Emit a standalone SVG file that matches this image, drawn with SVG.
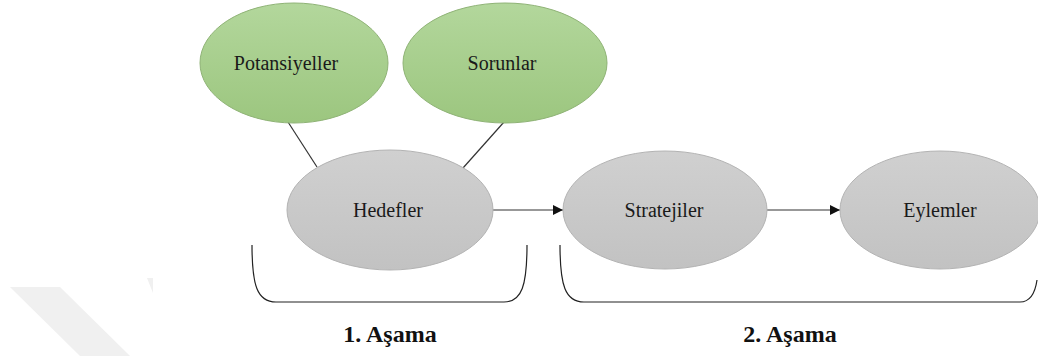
<svg xmlns="http://www.w3.org/2000/svg" width="1038" height="356" viewBox="0 0 1038 356">
<style>
.green{fill:url(#gGreen);stroke:#8fb376;stroke-width:1}
.gray{fill:url(#gGray);stroke:#b3b3b3;stroke-width:1}
.lbl{font-family:"Liberation Serif","Times New Roman",serif;font-size:20px;fill:#1a1a1a;text-anchor:middle}
.phase{font-family:"Liberation Serif","Times New Roman",serif;font-size:24px;font-weight:bold;fill:#111;text-anchor:middle}
.conn{stroke:#333;stroke-width:1.2;fill:none}
.brk{stroke:#222;stroke-width:1.2;fill:none}
</style>
<defs>
<linearGradient id="gGreen" x1="0" y1="0" x2="0" y2="1">
<stop offset="0" stop-color="#b3d79c"/>
<stop offset="1" stop-color="#9cc67f"/>
</linearGradient>
<linearGradient id="gGray" x1="0" y1="0" x2="0" y2="1">
<stop offset="0" stop-color="#d0d0d0"/>
<stop offset="1" stop-color="#c2c2c2"/>
</linearGradient>
<marker id="arr" viewBox="0 0 10 10" refX="10" refY="5" markerWidth="10" markerHeight="10" markerUnits="userSpaceOnUse" orient="auto">
<path d="M0,0 L10,5 L0,10 z" fill="#111"/>
</marker>
</defs>
<rect width="1038" height="356" fill="#ffffff"/>
<polygon points="10,287 60,287 130,356 80,356" fill="#f0f0f0"/>
<polygon points="147,278 153,278 153,293" fill="#f0f0f0"/>
<g id="connectors">
<line class="conn" x1="288" y1="122" x2="317" y2="167"/>
<line class="conn" x1="504" y1="122" x2="463" y2="168"/>
<line class="conn" x1="492" y1="210" x2="563" y2="210" marker-end="url(#arr)"/>
<line class="conn" x1="767" y1="210" x2="840" y2="210" marker-end="url(#arr)"/>
</g>
<g id="potansiyeller">
<ellipse class="green" cx="294" cy="63" rx="94" ry="60"/>
<text class="lbl" x="286" y="70">Potansiyeller</text>
</g>
<g id="sorunlar">
<ellipse class="green" cx="505" cy="63" rx="102" ry="60"/>
<text class="lbl" x="502" y="70">Sorunlar</text>
</g>
<g id="hedefler">
<ellipse class="gray" cx="390" cy="210" rx="103" ry="60"/>
<text class="lbl" x="388" y="217">Hedefler</text>
</g>
<g id="stratejiler">
<ellipse class="gray" cx="665" cy="210" rx="102" ry="59"/>
<text class="lbl" x="664" y="217">Stratejiler</text>
</g>
<g id="eylemler">
<ellipse class="gray" cx="940" cy="210" rx="100" ry="59"/>
<text class="lbl" x="940" y="217">Eylemler</text>
</g>
<g id="phase1">
<path class="brk" d="M252,245 C252,285 257,302 276,302 L504,302 C522,302 527,285 527,245"/>
<text class="phase" x="390" y="342">1. Aşama</text>
</g>
<g id="phase2">
<path class="brk" d="M560,245 C560,285 565,302 584,302 L1020,302 C1030,302 1035,294 1037,280"/>
<text class="phase" x="790" y="342">2. Aşama</text>
</g>
</svg>
